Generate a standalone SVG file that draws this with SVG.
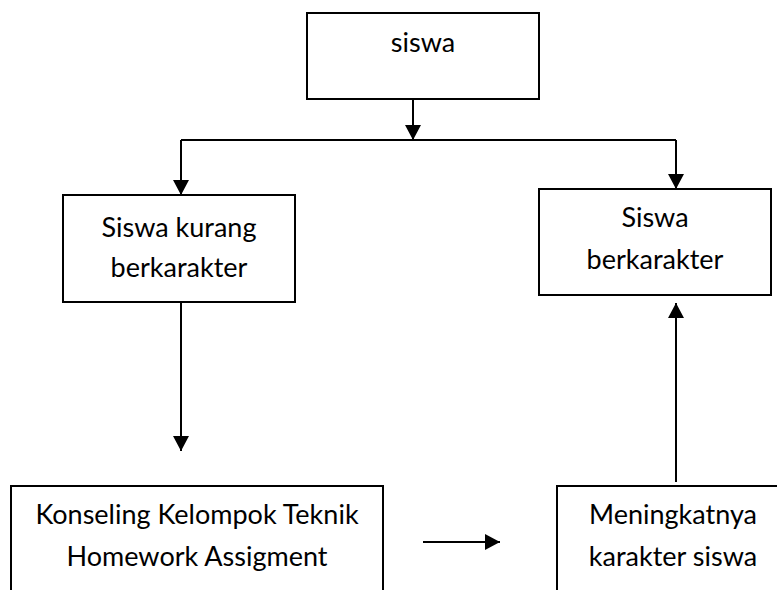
<svg xmlns="http://www.w3.org/2000/svg" width="777" height="590" viewBox="0 0 777 590">
<style>
.box{fill:#fff;stroke:#000;stroke-width:2}
.lbl{font-family:Lato,"Open Sans","Liberation Sans",sans-serif;font-size:27px;fill:#000;text-anchor:middle}
.ln{fill:none;stroke:#000;stroke-width:2}
.arr{fill:none;stroke:#000;stroke-width:2;marker-end:url(#ah)}
</style>
<defs>
<marker id="ah" markerUnits="userSpaceOnUse" markerWidth="16" markerHeight="16" refX="15" refY="8" orient="auto" viewBox="0 0 16 16">
<path d="M0,0 L15,8 L0,16 z" fill="#000"/>
</marker>
</defs>
<rect width="777" height="590" fill="#fff"/>
<g id="connectors">
<path class="arr" d="M413,99 V140"/>
<path class="ln" d="M181,140 H676"/>
<path class="arr" d="M181,140 V195"/>
<path class="arr" d="M676,140 V189"/>
<path class="arr" d="M181,302 V451"/>
<path class="arr" d="M423,542 H500"/>
<path class="arr" d="M676,482 V303"/>
</g>
<g id="siswa">
<rect class="box" x="307" y="13" width="232" height="86"/>
<text class="lbl" x="423" y="52">siswa</text>
</g>
<g id="kurang">
<rect class="box" x="63" y="195" width="232" height="107"/>
<text class="lbl" x="179" y="237">Siswa kurang</text>
<text class="lbl" x="179" y="277">berkarakter</text>
</g>
<g id="berkarakter">
<rect class="box" x="539" y="189" width="232" height="106"/>
<text class="lbl" x="655" y="227">Siswa</text>
<text class="lbl" x="655" y="269">berkarakter</text>
</g>
<g id="konseling">
<rect class="box" x="11" y="486" width="372" height="120"/>
<text class="lbl" x="197" y="524">Konseling Kelompok Teknik</text>
<text class="lbl" x="197" y="566">Homework Assigment</text>
</g>
<g id="meningkat">
<rect class="box" x="557" y="486" width="232" height="120"/>
<text class="lbl" x="673" y="524">Meningkatnya</text>
<text class="lbl" x="673" y="566">karakter siswa</text>
</g>
</svg>
